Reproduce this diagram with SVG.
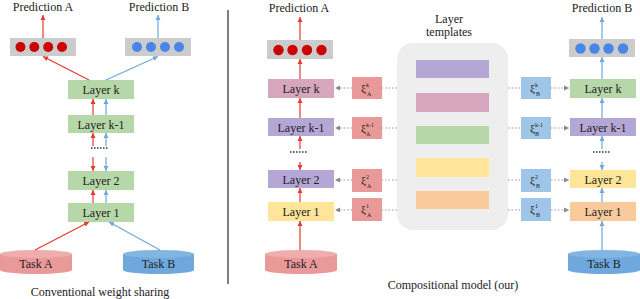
<svg xmlns="http://www.w3.org/2000/svg" width="640" height="299" viewBox="0 0 640 299">
<defs>
<style>
text{font-family:"Liberation Serif","Times New Roman",serif;fill:#222;}
.t{font-size:12px;text-anchor:middle;}
.lbl{font-size:12px;text-anchor:middle;}
.xi{font-size:11px;}
.sm{font-size:6px;}
.green{fill:#b6d7a8;}
.pink{fill:#d5a6bd;}
.purple{fill:#b4a7d6;}
.yellow{fill:#ffe599;}
.orange{fill:#f9cb9c;}
.xa{fill:#ea9999;}
.xb{fill:#9fc5e8;}
.gray{fill:#cccccc;}
.rd{fill:#cc0000;}
.bd{fill:#4a86e8;}
.ar{stroke:#e53935;stroke-width:1.2;fill:none;marker-end:url(#mr);}
.ab{stroke:#6fa8dc;stroke-width:1.2;fill:none;marker-end:url(#mb);}
.dt{stroke:#999;stroke-width:1;stroke-dasharray:1.5 2;fill:none;}
.dta{stroke:#999;stroke-width:1;stroke-dasharray:1.5 2;fill:none;marker-end:url(#mg);}
.dots{stroke:#333;stroke-width:1.5;stroke-dasharray:1.5 1.5;fill:none;}
</style>
<marker id="mr" markerUnits="userSpaceOnUse" markerWidth="6" markerHeight="6" refX="5" refY="3" orient="auto"><path d="M0,0.5 L5,3 L0,5.5 Z" fill="#e53935"/></marker>
<marker id="mb" markerUnits="userSpaceOnUse" markerWidth="6" markerHeight="6" refX="5" refY="3" orient="auto"><path d="M0,0.5 L5,3 L0,5.5 Z" fill="#6fa8dc"/></marker>
<marker id="mg" markerUnits="userSpaceOnUse" markerWidth="6" markerHeight="6" refX="5" refY="3" orient="auto"><path d="M0,0.5 L5,3 L0,5.5 Z" fill="#888"/></marker>
</defs>
<rect width="640" height="299" fill="#fff"/>

<!-- divider -->
<line x1="228" y1="10" x2="228" y2="284" stroke="#555" stroke-width="1.5"/>

<!-- ===== Left panel ===== -->
<g id="predA-left"><text class="t" x="43" y="11">Prediction A</text></g>
<g id="predB-left"><text class="t" x="159" y="11">Prediction B</text></g>
<g id="outA-left">
<rect class="gray" x="10" y="38" width="66" height="18"/>
<circle class="rd" cx="20.5" cy="47" r="5"/><circle class="rd" cx="34.3" cy="47" r="5"/><circle class="rd" cx="48.2" cy="47" r="5"/><circle class="rd" cx="62" cy="47" r="5"/>
</g>
<g id="outB-left">
<rect class="gray" x="125" y="38" width="66" height="18"/>
<circle class="bd" cx="137" cy="47" r="5"/><circle class="bd" cx="151" cy="47" r="5"/><circle class="bd" cx="165" cy="47" r="5"/><circle class="bd" cx="179" cy="47" r="5"/>
</g>
<g id="layerk-left"><rect class="green" x="68" y="80" width="66" height="19"/><text class="lbl" x="101" y="93.5">Layer k</text></g>
<g id="layerk1-left"><rect class="green" x="68" y="115" width="66" height="18"/><text class="lbl" x="101" y="128.5">Layer k-1</text></g>
<g id="layer2-left"><rect class="green" x="68" y="171" width="66" height="19"/><text class="lbl" x="101" y="184.5">Layer 2</text></g>
<g id="layer1-left"><rect class="green" x="68" y="203" width="66" height="19"/><text class="lbl" x="101" y="216.5">Layer 1</text></g>
<g id="taskA-left">
<rect x="0" y="254" width="72" height="16" fill="#ea9999"/>
<ellipse cx="36" cy="270" rx="36" ry="4" fill="#ea9999"/>
<ellipse cx="36" cy="254" rx="36" ry="4" fill="#f0adad"/>
<text class="lbl" x="36" y="268">Task A</text>
</g>
<g id="taskB-left">
<rect x="123" y="254" width="71" height="16" fill="#6fa8dc"/>
<ellipse cx="158.5" cy="270" rx="35.5" ry="4" fill="#6fa8dc"/>
<ellipse cx="158.5" cy="254" rx="35.5" ry="4" fill="#82b5e2"/>
<text class="lbl" x="158.5" y="268">Task B</text>
</g>
<g id="caption-left"><text class="t" x="100" y="296">Conventional weight sharing</text></g>

<!-- ===== Right panel ===== -->
<g id="predA-right"><text class="t" x="299" y="12">Prediction A</text></g>
<g id="predB-right"><text class="t" x="602" y="12">Prediction B</text></g>
<g id="templates-title"><text class="t" x="449" y="23">Layer</text><text class="t" x="449" y="36">templates</text></g>
<g id="templates">
<rect x="397" y="43" width="111" height="187" rx="16" fill="#eeeeee"/>
<rect class="purple" x="416" y="60" width="73" height="18"/>
<rect class="pink" x="416" y="93" width="73" height="19"/>
<rect class="green" x="416" y="126" width="73" height="18"/>
<rect class="yellow" x="416" y="158" width="73" height="19"/>
<rect class="orange" x="416" y="191" width="73" height="18"/>
</g>
<g id="outA-right">
<rect class="gray" x="267" y="40" width="66" height="19"/>
<circle class="rd" cx="278.5" cy="50" r="5.2"/><circle class="rd" cx="292.5" cy="50" r="5.2"/><circle class="rd" cx="307" cy="50" r="5.2"/><circle class="rd" cx="321.5" cy="50" r="5.2"/>
</g>
<g id="outB-right">
<rect class="gray" x="569" y="39" width="66" height="18"/>
<circle class="bd" cx="580.5" cy="48.5" r="5.2"/><circle class="bd" cx="594.5" cy="48.5" r="5.2"/><circle class="bd" cx="608.5" cy="48.5" r="5.2"/><circle class="bd" cx="623" cy="48.5" r="5.2"/>
</g>
<g id="layerk-A"><rect class="pink" x="268" y="79" width="66" height="19"/><text class="lbl" x="301" y="92.5">Layer k</text></g>
<g id="layerk1-A"><rect class="purple" x="268" y="118" width="66" height="18"/><text class="lbl" x="301" y="131.5">Layer k-1</text></g>
<g id="layer2-A"><rect class="purple" x="268" y="170" width="66" height="18"/><text class="lbl" x="301" y="183.5">Layer 2</text></g>
<g id="layer1-A"><rect class="yellow" x="268" y="202" width="66" height="19"/><text class="lbl" x="301" y="215.5">Layer 1</text></g>
<g id="layerk-B"><rect class="green" x="570" y="79" width="66" height="19"/><text class="lbl" x="603" y="92.5">Layer k</text></g>
<g id="layerk1-B"><rect class="purple" x="570" y="118" width="66" height="18"/><text class="lbl" x="603" y="131.5">Layer k-1</text></g>
<g id="layer2-B"><rect class="yellow" x="570" y="170" width="66" height="18"/><text class="lbl" x="603" y="183.5">Layer 2</text></g>
<g id="layer1-B"><rect class="orange" x="570" y="202" width="66" height="19"/><text class="lbl" x="603" y="215.5">Layer 1</text></g>

<g id="xiA-k"><rect class="xa" x="352" y="77" width="30" height="22"/><text class="xi" x="361" y="92">ξ<tspan class="sm" dy="-5">k</tspan><tspan class="sm" dx="-2" dy="9">A</tspan></text></g>
<g id="xiA-k1"><rect class="xa" x="352" y="117" width="30" height="22"/><text class="xi" x="361" y="132">ξ<tspan class="sm" dy="-5">k-1</tspan><tspan class="sm" dx="-8" dy="9">A</tspan></text></g>
<g id="xiA-2"><rect class="xa" x="352" y="169" width="30" height="23"/><text class="xi" x="361" y="184">ξ<tspan class="sm" dy="-5">2</tspan><tspan class="sm" dx="-2" dy="9">A</tspan></text></g>
<g id="xiA-1"><rect class="xa" x="352" y="198" width="30" height="23"/><text class="xi" x="361" y="213">ξ<tspan class="sm" dy="-5">1</tspan><tspan class="sm" dx="-2" dy="9">A</tspan></text></g>
<g id="xiB-k"><rect class="xb" x="521" y="77" width="30" height="22"/><text class="xi" x="530" y="92">ξ<tspan class="sm" dy="-5">k</tspan><tspan class="sm" dx="-2" dy="9">B</tspan></text></g>
<g id="xiB-k1"><rect class="xb" x="521" y="117" width="30" height="22"/><text class="xi" x="530" y="132">ξ<tspan class="sm" dy="-5">k-1</tspan><tspan class="sm" dx="-8" dy="9">B</tspan></text></g>
<g id="xiB-2"><rect class="xb" x="521" y="169" width="30" height="23"/><text class="xi" x="530" y="184">ξ<tspan class="sm" dy="-5">2</tspan><tspan class="sm" dx="-2" dy="9">B</tspan></text></g>
<g id="xiB-1"><rect class="xb" x="521" y="198" width="30" height="23"/><text class="xi" x="530" y="213">ξ<tspan class="sm" dy="-5">1</tspan><tspan class="sm" dx="-2" dy="9">B</tspan></text></g>

<g id="taskA-right">
<rect x="265" y="254" width="72" height="16" fill="#ea9999"/>
<ellipse cx="301" cy="270" rx="36" ry="4" fill="#ea9999"/>
<ellipse cx="301" cy="254" rx="36" ry="4" fill="#f0adad"/>
<text class="lbl" x="301" y="268">Task A</text>
</g>
<g id="taskB-right">
<rect x="568" y="254" width="72" height="16" fill="#6fa8dc"/>
<ellipse cx="604" cy="270" rx="36" ry="4" fill="#6fa8dc"/>
<ellipse cx="604" cy="254" rx="36" ry="4" fill="#82b5e2"/>
<text class="lbl" x="604" y="268">Task B</text>
</g>
<g id="caption-right"><text class="t" x="453" y="289">Compositional model (our)</text></g>

<!-- ===== Connectors ===== -->
<g id="connectors">
<!-- left -->
<line class="ar" x1="43" y1="38" x2="43" y2="15"/>
<line class="ab" x1="158" y1="38" x2="158" y2="15"/>
<line class="ar" x1="89" y1="80" x2="43" y2="56.5"/>
<line class="ab" x1="106" y1="80" x2="158" y2="56.5"/>
<line class="ar" x1="93" y1="115" x2="93" y2="99"/>
<line class="ab" x1="106" y1="115" x2="106" y2="99"/>
<line class="ar" x1="93" y1="146" x2="93" y2="133"/>
<line class="ab" x1="106" y1="146" x2="106" y2="133"/>
<line class="dots" x1="91" y1="148" x2="109" y2="148"/>
<line class="ar" x1="93" y1="157" x2="93" y2="171"/>
<line class="ab" x1="106" y1="157" x2="106" y2="171"/>
<line class="ar" x1="93" y1="203" x2="93" y2="190"/>
<line class="ab" x1="106" y1="203" x2="106" y2="190"/>
<line class="ar" x1="35" y1="250" x2="89" y2="222"/>
<line class="ab" x1="160" y1="250" x2="109" y2="222"/>
<!-- right A -->
<line class="ar" x1="300" y1="40" x2="300" y2="17"/>
<line class="ar" x1="300" y1="79" x2="300" y2="59"/>
<line class="ar" x1="300" y1="118" x2="300" y2="98"/>
<line class="ar" x1="300" y1="149" x2="300" y2="136"/>
<line class="dots" x1="290" y1="152" x2="308" y2="152"/>
<line class="ar" x1="300" y1="162" x2="300" y2="170"/>
<line class="ar" x1="300" y1="202" x2="300" y2="188"/>
<line class="ar" x1="300" y1="250" x2="300" y2="221"/>
<!-- right B -->
<line class="ab" x1="602" y1="39" x2="602" y2="17"/>
<line class="ab" x1="602" y1="79" x2="602" y2="57"/>
<line class="ab" x1="602" y1="118" x2="602" y2="98"/>
<line class="ab" x1="602" y1="149" x2="602" y2="136"/>
<line class="dots" x1="593" y1="152" x2="611" y2="152"/>
<line class="ab" x1="602" y1="162" x2="602" y2="170"/>
<line class="ab" x1="602" y1="202" x2="602" y2="188"/>
<line class="ab" x1="602" y1="250" x2="602" y2="221"/>
<!-- dotted template links A -->
<line class="dt" x1="397" y1="88" x2="382" y2="88"/>
<line class="dta" x1="352" y1="88" x2="335" y2="88"/>
<line class="dt" x1="397" y1="128" x2="382" y2="128"/>
<line class="dta" x1="352" y1="128" x2="335" y2="128"/>
<line class="dt" x1="397" y1="180" x2="382" y2="180"/>
<line class="dta" x1="352" y1="180" x2="335" y2="180"/>
<line class="dt" x1="397" y1="210" x2="382" y2="210"/>
<line class="dta" x1="352" y1="210" x2="335" y2="210"/>
<!-- dotted template links B -->
<line class="dt" x1="508" y1="88" x2="521" y2="88"/>
<line class="dta" x1="551" y1="88" x2="569" y2="88"/>
<line class="dt" x1="508" y1="128" x2="521" y2="128"/>
<line class="dta" x1="551" y1="128" x2="569" y2="128"/>
<line class="dt" x1="508" y1="180" x2="521" y2="180"/>
<line class="dta" x1="551" y1="180" x2="569" y2="180"/>
<line class="dt" x1="508" y1="210" x2="521" y2="210"/>
<line class="dta" x1="551" y1="210" x2="569" y2="210"/>
</g>
</svg>
